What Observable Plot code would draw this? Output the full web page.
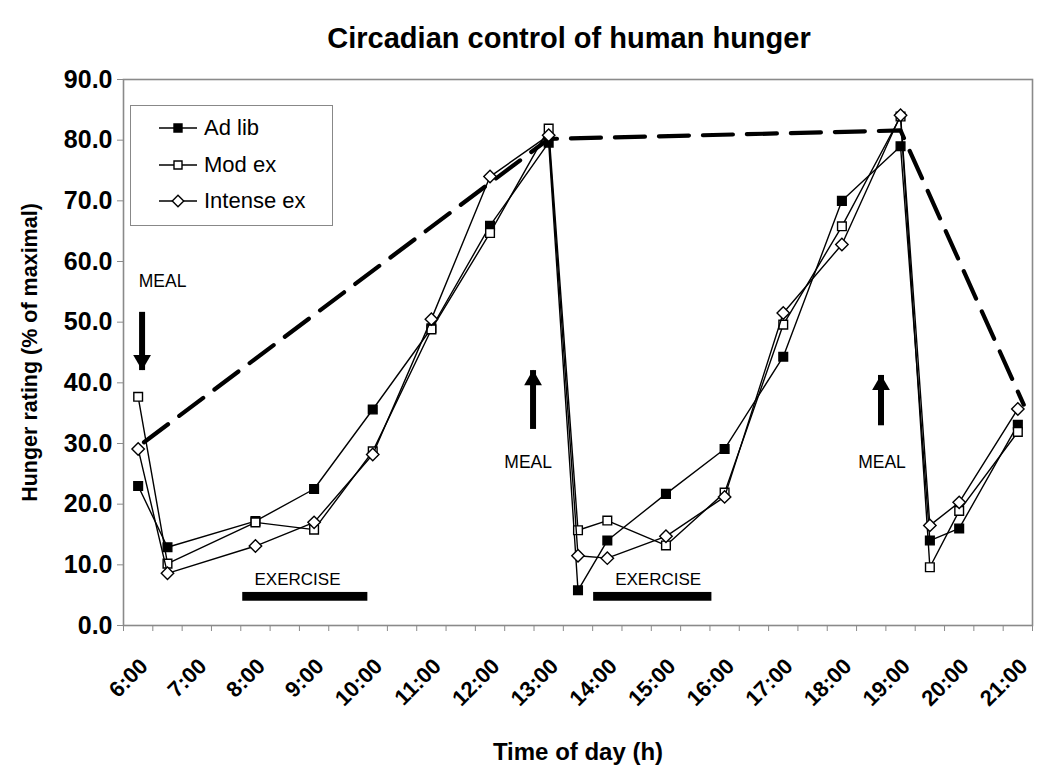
<!DOCTYPE html>
<html><head><meta charset="utf-8">
<script src="https://cdn.jsdelivr.net/npm/d3@7"></script>
<script src="https://cdn.jsdelivr.net/npm/@observablehq/plot@0.6"></script>
<style>
body{margin:0;background:#fff;font-family:"Liberation Sans",Arial,sans-serif;}
#wrap{position:relative;width:1050px;height:780px;}
#legend{position:absolute;left:130px;top:105px;width:203px;height:121px;border:1.5px solid #888;background:#fff;box-sizing:border-box;}
.item{position:absolute;left:0;height:26px;display:flex;align-items:center;font-size:22px;color:#000;}
.item svg{margin-left:27px;margin-right:6px;}
</style></head><body>
<div id="wrap"><div id="chart"></div><div id="legend"></div></div>
<script>
// ---- data ----
const times = ["6:00","6:30","8:00","9:00","10:00","11:00","12:00","13:00","13:30","14:00","15:00","16:00","17:00","18:00","19:00","19:30","20:00","21:00"];
const adLib     = [23.0,12.9,17.2,22.5,35.6,49.0,65.9,79.6,5.8,14.0,21.7,29.1,44.3,70.0,79.0,14.0,16.0,33.1];
const modEx     = [37.7,10.2,17.0,15.8,28.7,48.8,64.7,81.9,15.7,17.3,13.2,21.9,49.6,65.8,83.9,9.6,18.9,31.9];
const intenseEx = [29.1,8.6,13.1,17.0,28.2,50.5,74.0,80.8,11.5,11.1,14.7,21.2,51.5,62.8,84.1,16.5,20.3,35.7];
const seriesNames = ["Ad lib","Mod ex","Intense ex"];

const hourLabels = ["6:00","7:00","8:00","9:00","10:00","11:00","12:00","13:00","14:00","15:00","16:00","17:00","18:00","19:00","20:00","21:00"];
const yTicks = [0,10,20,30,40,50,60,70,80,90];

// circadian envelope (dashed line)
const rhythmTimes = ["6:06","13:00","19:00","21:06"];
const rhythmValues = [30.2,80.2,81.6,36.4];

// meal annotations
const mealTextTimes = ["6:25","12:39","18:41"];
const mealTextValues = [56.8,26.9,26.9];
const mealDownArrow = {time:"6:04", from:51.7, to:42.1};
const mealUpArrowTimes = ["12:44","18:40"];
const mealUpArrowFrom = [32.4,33.0];
const mealUpArrowTo = [42.1,41.3];

// exercise bars
const exerciseStart = ["7:47","13:46"];
const exerciseEnd = ["9:55","15:47"];
const exerciseTextTimes = ["8:43","14:52"];

// ---- helpers ----
const hour = s => { const [h,m] = s.split(":").map(Number); return h + m/60; };
const FONT = '"Liberation Sans", Arial, sans-serif';

const seriesData = [adLib, modEx, intenseEx].map((vals, k) =>
  times.map((t,i) => ({series: seriesNames[k], x: hour(t), y: vals[i]})));

const rhythm = rhythmTimes.map((t,i) => ({x: hour(t), y: rhythmValues[i]}));
const meals = mealTextTimes.map((t,i) => ({x: hour(t), y: mealTextValues[i], text: "MEAL"}));
const downArrow = [{x: hour(mealDownArrow.time), y1: mealDownArrow.from, y2: mealDownArrow.to}];
const upArrows = mealUpArrowTimes.map((t,i) => ({x: hour(t), y1: mealUpArrowFrom[i], y2: mealUpArrowTo[i]}));
const exercise = exerciseStart.map((t,i) => ({x1: hour(t), x2: hour(exerciseEnd[i]), tx: hour(exerciseTextTimes[i])}));

const firstHour = hour(times[0]);
const lastHour = hour(times[times.length-1]);
const boundaries = d3.range(firstHour - 0.25, lastHour + 0.26, 0.5);
const labelHours = hourLabels.map(hour);

const symbols = ["square","square","diamond2"];
const fills = ["black","white","white"];
const radii = [4.9,4.9,5.6];

const seriesMarks = seriesData.flatMap((d,k) => [
  Plot.line(d, {x:"x", y:"y", stroke:"black", strokeWidth:1.4}),
  Plot.dot(d, {x:"x", y:"y", symbol:()=>symbols[k], r:radii[k], fill:fills[k], stroke:"black", strokeWidth:1.4})
]);

const chart = Plot.plot({
  width: 1050,
  height: 780,
  marginLeft: 123,
  marginRight: 18,
  marginTop: 79,
  marginBottom: 155,
  style: {fontFamily: FONT, background: "white", color: "black"},
  symbol: {type: "identity"},
  x: {type: "linear", domain: [firstHour - 0.25, lastHour + 0.25]},
  y: {domain: [0, 90]},
  marks: [
    Plot.frame({stroke: "#8a8a8a", strokeWidth: 1.6}),
    Plot.axisY({ticks: yTicks, tickSize: 6, tickFormat: () => "", stroke: "#8a8a8a"}),
    Plot.axisY({ticks: yTicks, tickSize: 0, tickPadding: 11, tickFormat: d => d.toFixed(1),
      fontSize: 25, fontWeight: "bold", fill: "black"}),
    Plot.axisX({ticks: boundaries, tickSize: 6, tickFormat: () => "", stroke: "#8a8a8a", label: null}),
    Plot.text(labelHours, {x: d => d, frameAnchor: "bottom", text: (d,i) => hourLabels[i],
      rotate: -45, textAnchor: "end", lineAnchor: "middle", dy: 37, dx: 6,
      fontSize: 22, fontWeight: "bold", fill: "black"}),
    // exercise bars
    Plot.rect(exercise, {x1: "x1", x2: "x2", y1: 4.0, y2: 5.45, fill: "black"}),
    Plot.text(exercise, {x: "tx", y: 7.6, text: () => "EXERCISE", fontSize: 17, fill: "black"}),
    // meal arrows
    Plot.link(downArrow, {x1: "x", x2: "x", y1: "y1", y2: "y2", stroke: "black", strokeWidth: 6}),
    Plot.text(meals, {x: "x", y: "y", text: "text", fontSize: 17.5, fill: "black"}),
    Plot.link(upArrows, {x1: "x", x2: "x", y1: "y1", y2: "y2", stroke: "black", strokeWidth: 6}),
    Plot.dot(downArrow, {x: "x", y: "y2", symbol: "triangle", r: 6.6, rotate: 180, fill: "black", dy: -10}),
    Plot.dot(upArrows, {x: "x", y: "y2", symbol: "triangle", r: 6.6, fill: "black", dy: 10}),
    // circadian envelope
    Plot.line(rhythm, {x: "x", y: "y", stroke: "black", strokeWidth: 4.2, strokeDasharray: "30,14"}),
    ...seriesMarks,
    // titles
    Plot.text(["Circadian control of human hunger"], {frameAnchor: "top", text: d => d, dy: -41, dx: -9,
      lineAnchor: "middle", fontSize: 29, fontWeight: "bold", fill: "black"}),
    Plot.text(["Time of day (h)"], {frameAnchor: "bottom", text: d => d, dy: 127, lineAnchor: "middle",
      fontSize: 24, fontWeight: "bold", fill: "black"}),
    Plot.text(["Hunger rating (% of maximal)"], {frameAnchor: "left", text: d => d, rotate: -90, dx: -93,
      textAnchor: "middle", lineAnchor: "middle", fontSize: 21.5, fontWeight: "bold", fill: "black"})
  ]
});
document.getElementById("chart").appendChild(chart);

// ---- legend ----
const legend = document.getElementById("legend");
const itemCenters = [22, 59, 95];
seriesNames.forEach((name,k) => {
  const div = document.createElement("div");
  div.className = "item";
  div.style.top = (itemCenters[k] - 13) + "px";
  const ns = "http://www.w3.org/2000/svg";
  const s = document.createElementNS(ns, "svg");
  s.setAttribute("width", 40); s.setAttribute("height", 16);
  const ln = document.createElementNS(ns, "line");
  ln.setAttribute("x1", 1); ln.setAttribute("x2", 39); ln.setAttribute("y1", 8); ln.setAttribute("y2", 8);
  ln.setAttribute("stroke", "black"); ln.setAttribute("stroke-width", 1.4);
  s.appendChild(ln);
  const sym = d3.symbol(k === 2 ? d3.symbolDiamond2 : d3.symbolSquare, Math.PI * radii[k] * radii[k] * 0.85);
  const p = document.createElementNS(ns, "path");
  p.setAttribute("d", sym()); p.setAttribute("transform", "translate(20,8)");
  p.setAttribute("fill", fills[k]); p.setAttribute("stroke", "black"); p.setAttribute("stroke-width", 1.4);
  s.appendChild(p);
  div.appendChild(s);
  div.appendChild(document.createTextNode(name));
  legend.appendChild(div);
});
</script>
</body></html>
